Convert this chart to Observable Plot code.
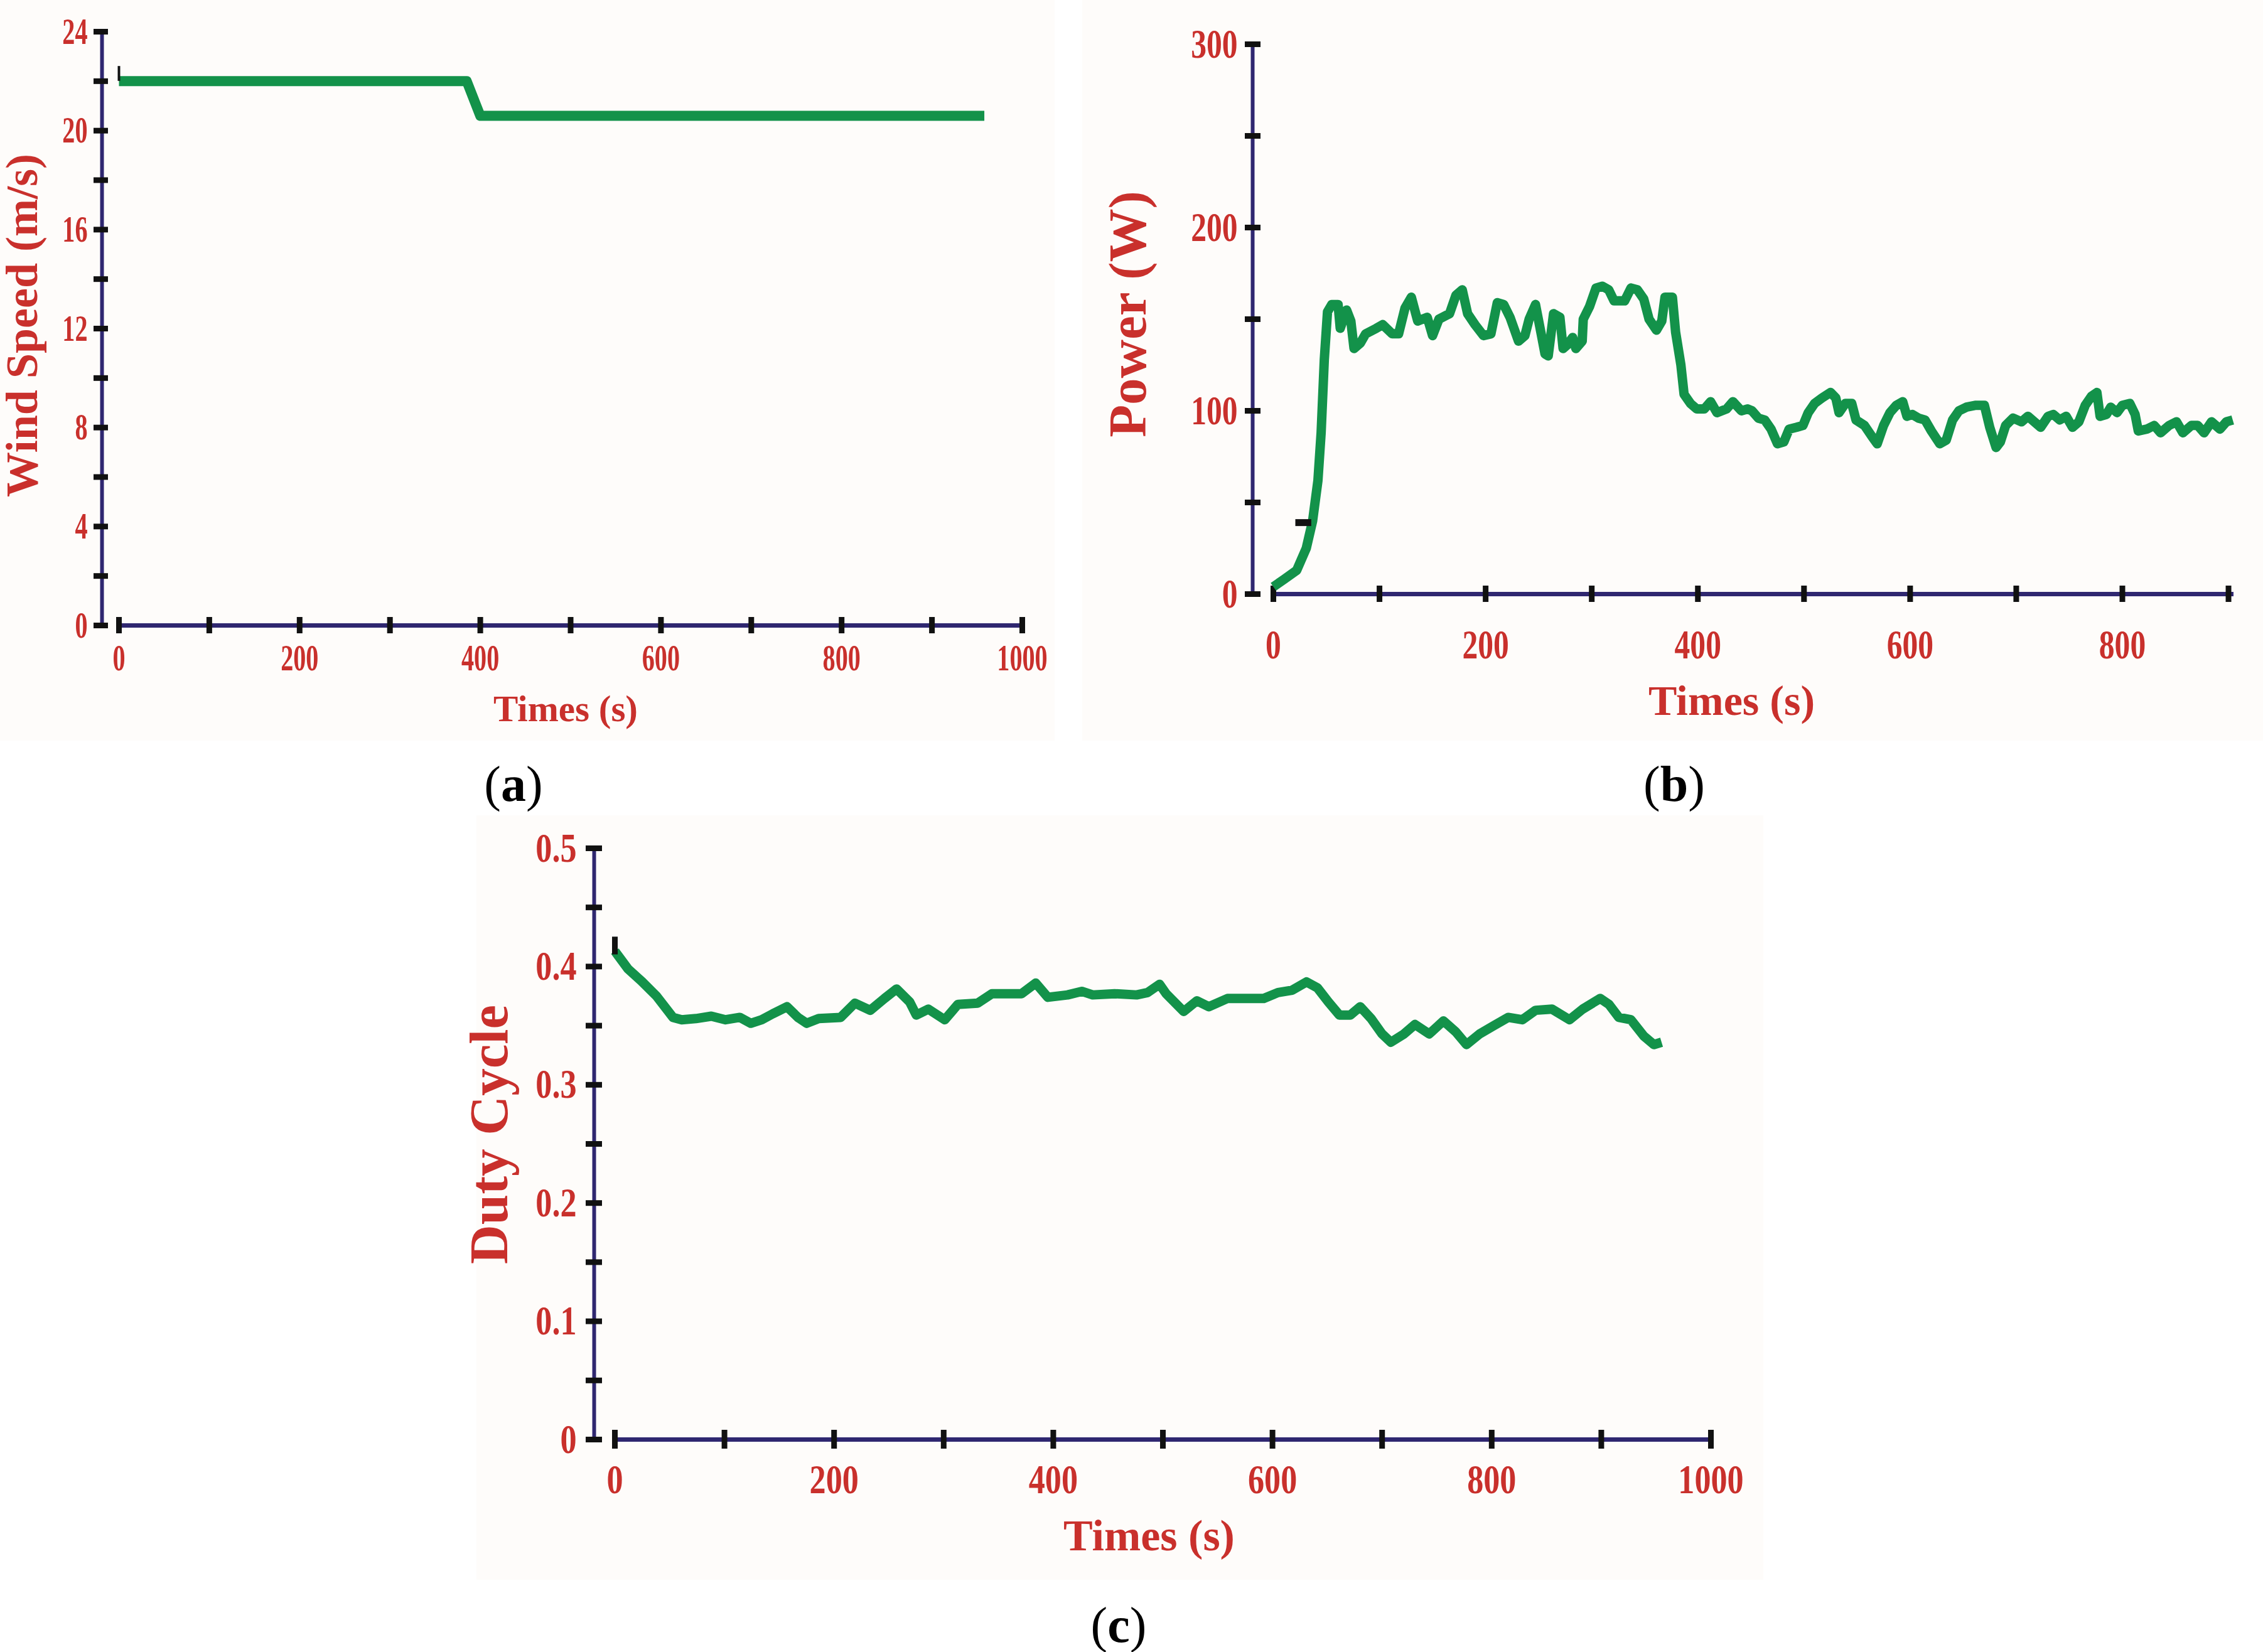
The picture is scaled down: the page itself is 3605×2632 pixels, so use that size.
<!DOCTYPE html>
<html><head><meta charset="utf-8">
<script src="https://cdn.jsdelivr.net/npm/d3@7"></script>
<script src="https://cdn.jsdelivr.net/npm/@observablehq/plot@0.6"></script>
<style>
html,body{margin:0;padding:0;background:#ffffff;}
body{width:3605px;height:2632px;position:relative;overflow:hidden;font-family:"Liberation Serif",serif;}
.panel{position:absolute;background:#fefcfa;}
.plot{position:absolute;}
.cap{position:absolute;font-size:80px;line-height:1;transform:translate(-50%,-50%);white-space:nowrap;color:#000;font-family:"Liberation Serif",serif;}
</style></head>
<body>
<div class="panel" style="left:0;top:0;width:1680px;height:1180px"></div>
<div class="panel" style="left:1724px;top:0;width:1881px;height:1180px"></div>
<div class="panel" style="left:759px;top:1299px;width:2050px;height:1218px"></div>
<div id="pa" class="plot" style="left:0;top:0"></div>
<div id="pb" class="plot" style="left:1730px;top:0"></div>
<div id="pc" class="plot" style="left:760px;top:1300px"></div>
<div class="cap" style="left:818px;top:1249px">(<b>a</b>)</div>
<div class="cap" style="left:2667px;top:1249px">(<b>b</b>)</div>
<div class="cap" style="left:1782px;top:2589px">(<b>c</b>)</div>
<script>
// ---------- data ----------
// (a) wind speed
const windT = [0, 385, 400, 958];
const windV = [22, 22, 20.6, 20.6];
const windYTicks = [0,2,4,6,8,10,12,14,16,18,20,22,24];
const windYLabels = [0,4,8,12,16,20,24];
const windXTicks = [0,100,200,300,400,500,600,700,800,900,1000];
const windXLabels = [0,200,400,600,800,1000];
const windMarker = [{t:0, y1:22, y2:22.6}];

// (b) power
const powerT = [0,10,22,31,37,42,45,48,51,55,61,63,69,73,76,82,87,97,103,112,118,124,130,136,145,150,156,166,172,178,183,190,198,205,211,217,223,231,237,241,247,252,256,259,264,270,273,277,282,285,291,292,298,304,310,316,321,331,337,343,349,354,361,366,369,376,379,384,387,393,399,406,412,418,427,433,441,447,451,457,463,469,475,481,486,493,499,504,510,517,525,530,533,539,545,549,557,564,569,575,581,587,593,597,602,608,614,620,628,634,640,646,653,662,670,675,681,685,690,697,705,711,717,723,730,735,741,747,753,759,765,771,776,779,785,789,795,800,807,812,815,823,830,836,844,851,857,865,871,877,884,892,898,904];
const powerW = [4,8,13,25,40,62,88,128,154,158,158,145,155,149,134,137,142,145,147,142,142,156,162,149,151,141,150,153,163,166,153,147,141,142,159,158,151,138,141,150,158,143,131,130,153,151,134,136,140,134,138,150,157,167,168,166,160,160,167,166,161,150,144,149,162,162,143,125,109,104,101,101,105,99,101,105,100,101,100,96,95,90,82,83,90,91,92,99,104,107,110,107,99,104,104,95,92,86,82,92,99,103,105,97,98,96,95,89,82,84,95,100,102,103,103,91,80,83,92,96,94,97,94,91,97,98,95,97,91,94,103,108,110,97,98,102,99,103,104,98,89,90,92,88,92,94,88,92,92,88,94,90,94,95];
const powerYTicks = [0,50,100,150,200,250,300];
const powerYLabels = [0,100,200,300];
const powerXTicks = [0,100,200,300,400,500,600,700,800,900];
const powerXLabels = [0,200,400,600,800];
const powerMarker = [{p:39, x1:21, x2:36}];

// (c) duty cycle
const dutyT = [0,12,25,38,53,61,74,88,101,114,124,134,144,157,167,175,186,206,219,233,246,257,269,275,286,301,313,331,344,371,384,395,413,426,436,456,476,486,497,503,519,531,542,559,576,592,605,618,631,641,651,661,671,680,690,700,708,720,730,743,756,767,777,789,802,815,828,840,855,871,883,899,907,916,927,939,948,955];
const dutyD = [0.413,0.398,0.387,0.375,0.357,0.355,0.356,0.358,0.355,0.357,0.352,0.355,0.360,0.366,0.357,0.352,0.356,0.357,0.369,0.363,0.373,0.381,0.370,0.359,0.364,0.355,0.368,0.369,0.377,0.377,0.386,0.374,0.376,0.379,0.376,0.377,0.376,0.378,0.385,0.377,0.362,0.371,0.366,0.373,0.373,0.373,0.378,0.380,0.387,0.382,0.370,0.359,0.359,0.366,0.356,0.343,0.336,0.343,0.351,0.343,0.354,0.345,0.334,0.343,0.350,0.357,0.355,0.363,0.364,0.355,0.364,0.373,0.368,0.357,0.355,0.341,0.334,0.336];
const dutyYTicks = [0,0.05,0.1,0.15,0.2,0.25,0.3,0.35,0.4,0.45,0.5];
const dutyYLabels = [0,0.1,0.2,0.3,0.4,0.5];
const dutyXTicks = [0,100,200,300,400,500,600,700,800,900,1000];
const dutyXLabels = [0,200,400,600,800,1000];
const dutyMarker = [{t:0, y1:0.41, y2:0.425}];

const xTitle = "Times (s)";
const titleA = "Wind Speed (m/s)";
const titleB = "Power (W)";
const titleC = "Duty Cycle";

// ---------- styles ----------
const RED = "#c9302c", NAVY = "#2f2770", GREEN = "#13924a", TICK = "#111111";
const FONT = "Liberation Serif";

function fmt(d) { return d === 0 ? "0" : String(d); }

function makePanel(cfg) {
  const data = cfg.t.map((t, i) => ({t, v: cfg.v[i]}));
  return Plot.plot({
    width: cfg.width, height: cfg.height,
    marginLeft: cfg.ml, marginRight: cfg.mr, marginTop: cfg.mt, marginBottom: cfg.mb,
    x: {domain: cfg.xDomain, label: null},
    y: {domain: cfg.yDomain, label: null},
    style: {background: "transparent", fontFamily: FONT, overflow: "visible"},
    marks: [
      // axis lines
      Plot.ruleX([cfg.xDomain[0]], {y1: cfg.yDomain[0], y2: cfg.yDomain[1], dx: cfg.yLineDx, stroke: NAVY, strokeWidth: 6}),
      Plot.ruleY([cfg.yDomain[0]], {x1: cfg.xDomain[0], x2: cfg.xDomain[1], stroke: NAVY, strokeWidth: 7}),
      // y ticks + labels
      Plot.axisY(cfg.yTicks, {anchor: "left", tickSize: cfg.yTickSize, dx: cfg.yTickDx, tickFormat: () => "", stroke: TICK, strokeWidth: 9, label: null}),
      Plot.axisY(cfg.yLabels, {anchor: "left", tickSize: 0, dx: cfg.yTickDx, tickPadding: cfg.yPad, tickFormat: fmt, fill: RED, fontSize: cfg.tickFont, fontWeight: "bold", label: null}),
      // x ticks + labels
      Plot.axisX(cfg.xTicks, {anchor: "bottom", tickSize: cfg.xTickSize, dy: -cfg.xTickSize / 2, tickFormat: () => "", stroke: TICK, strokeWidth: 9, label: null}),
      Plot.axisX(cfg.xLabels, {anchor: "bottom", tickSize: 0, tickPadding: cfg.xPad, tickFormat: fmt, fill: RED, fontSize: cfg.tickFont, fontWeight: "bold", label: null}),
      // data line
      Plot.line(data, {x: "t", y: "v", stroke: GREEN, strokeWidth: cfg.lineWidth, strokeLinejoin: "round", strokeLinecap: "butt"}),
      ...cfg.extra,
      // titles
      Plot.text([xTitle], {text: d => d, frameAnchor: "bottom", textAnchor: "middle", dx: cfg.xtDx, dy: cfg.xtDy, lineAnchor: "middle", fill: RED, fontSize: cfg.xtFont, fontWeight: "bold"}),
      Plot.text([cfg.yTitle], {text: d => d, frameAnchor: "left", textAnchor: "middle", rotate: -90, dx: cfg.ytDx, dy: cfg.ytDy, lineAnchor: "middle", fill: RED, fontSize: cfg.ytFont, fontWeight: "bold"})
    ]
  });
}

function condense(svg, f) {
  svg.querySelectorAll('g[aria-label$="tick label"] text').forEach(t => {
    const L = t.getComputedTextLength();
    if (L > 0) {
      t.setAttribute("textLength", (L * f).toFixed(1));
      t.setAttribute("lengthAdjust", "spacingAndGlyphs");
    }
  });
}

// (a)
const svgA = makePanel({
  t: windT, v: windV, width: 1700, height: 1180, ml: 189, mr: 72, mt: 50, mb: 184,
  xDomain: [0, 1000], yDomain: [0, 24],
  yTicks: windYTicks, yLabels: windYLabels, xTicks: windXTicks, xLabels: windXLabels,
  yLineDx: -27, yTickDx: -17, yTickSize: 23, yPad: 33, xTickSize: 26, xPad: 29,
  tickFont: 60, lineWidth: 16, yTitle: titleA,
  xtDx: -8, xtDy: 134, xtFont: 59, ytDx: -154, ytDy: -5, ytFont: 72,
  extra: [Plot.ruleX(windMarker, {x: "t", y1: "y1", y2: "y2", stroke: TICK, strokeWidth: 4})]
});
document.getElementById("pa").appendChild(svgA);
condense(svgA, 0.67);

// (b)
const svgB = makePanel({
  t: powerT, v: powerW, width: 1875, height: 1180, ml: 298, mr: 47, mt: 70, mb: 234,
  xDomain: [0, 905], yDomain: [0, 300],
  yTicks: powerYTicks, yLabels: powerYLabels, xTicks: powerXTicks, xLabels: powerXLabels,
  yLineDx: -33, yTickDx: -20, yTickSize: 25, yPad: 37, xTickSize: 26, xPad: 56,
  tickFont: 66, lineWidth: 15, yTitle: titleB,
  xtDx: -35, xtDy: 171, xtFont: 68, ytDx: -231, ytDy: -8, ytFont: 85,
  extra: [Plot.ruleY(powerMarker, {y: "p", x1: "x1", x2: "x2", stroke: TICK, strokeWidth: 11})]
});
document.getElementById("pb").appendChild(svgB);
condense(svgB, 0.75);

// (c)
const svgC = makePanel({
  t: dutyT, v: dutyD, width: 2050, height: 1220, ml: 219, mr: 85, mt: 51, mb: 227,
  xDomain: [0, 1000], yDomain: [0, 0.5],
  yTicks: dutyYTicks, yLabels: dutyYLabels, xTicks: dutyXTicks, xLabels: dutyXLabels,
  yLineDx: -33, yTickDx: -20, yTickSize: 26, yPad: 41, xTickSize: 30, xPad: 39,
  tickFont: 66, lineWidth: 15, yTitle: titleC,
  xtDx: -22, xtDy: 154, xtFont: 70, ytDx: -199, ytDy: -15, ytFont: 87,
  extra: [Plot.ruleX(dutyMarker, {x: "t", y1: "y1", y2: "y2", stroke: TICK, strokeWidth: 9})]
});
document.getElementById("pc").appendChild(svgC);
condense(svgC, 0.79);
</script>
</body></html>
